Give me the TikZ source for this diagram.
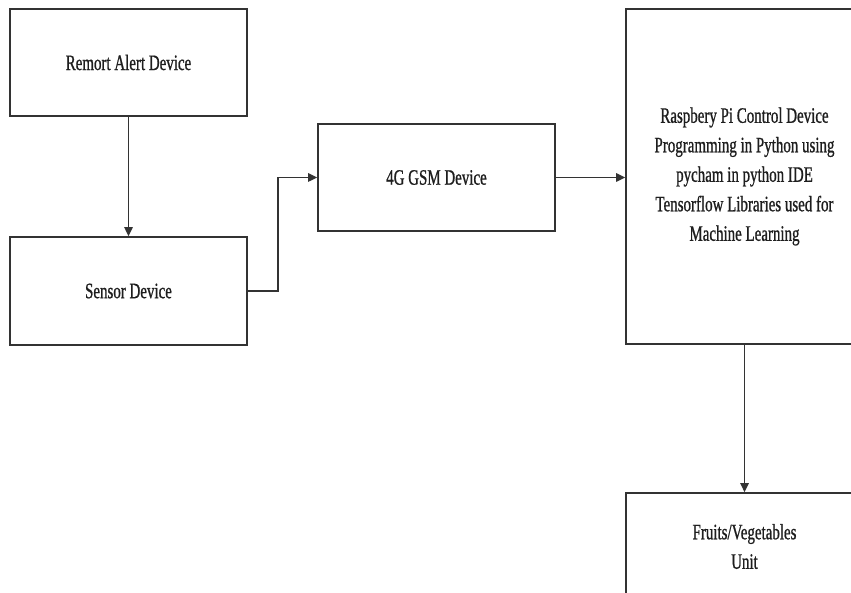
\documentclass[tikz,border=0pt]{standalone}
\usepackage{fontspec}
\usetikzlibrary{arrows.meta}
\newfontfamily\diagfont[FakeStretch=0.68,FakeBold=0.8]{Liberation Serif}
\definecolor{linegray}{HTML}{333333}
\definecolor{textgray}{HTML}{1E1E1E}
\begin{document}
\begin{tikzpicture}[x=1pt,y=-1pt,
  blockbox/.style={draw=linegray, line width=1.8pt, fill=white, minimum width=237pt,
    inner sep=0pt, align=center, text=textgray,
    font=\diagfont\fontsize{22}{29.5}\selectfont},
  conn/.style={draw=linegray, line width=1.4pt, -{Triangle[length=9pt,width=8.5pt]}}]
\clip (0,0) rectangle (851,593);
\fill[white] (0,0) rectangle (851,593);
\node[blockbox, minimum height=107pt] (remort) at (128.5,62.5) {Remort Alert Device};
\node[blockbox, minimum height=108pt] (sensor) at (128.5,291) {Sensor Device};
\node[blockbox, minimum height=107pt] (gsm) at (436.5,177.5) {4G GSM Device};
\node[blockbox, minimum height=335pt] (rpi) at (744.5,176.5) {Raspbery Pi Control Device\\Programming in Python using\\pycham in python IDE\\Tensorflow Libraries used for\\Machine Learning};
\node[blockbox, minimum height=107pt] (fruits) at (744.5,546.5) {Fruits/Vegetables\\Unit};
\coordinate (bend) at (278,0);
\draw[conn] (remort.south) -- (sensor.north);
\draw[conn] (sensor.east) -- (sensor.east -| bend) |- (gsm.west);
\draw[conn] (gsm.east) -- (gsm.east -| rpi.west);
\draw[conn] (rpi.south) -- (fruits.north);
\end{tikzpicture}
\end{document}
